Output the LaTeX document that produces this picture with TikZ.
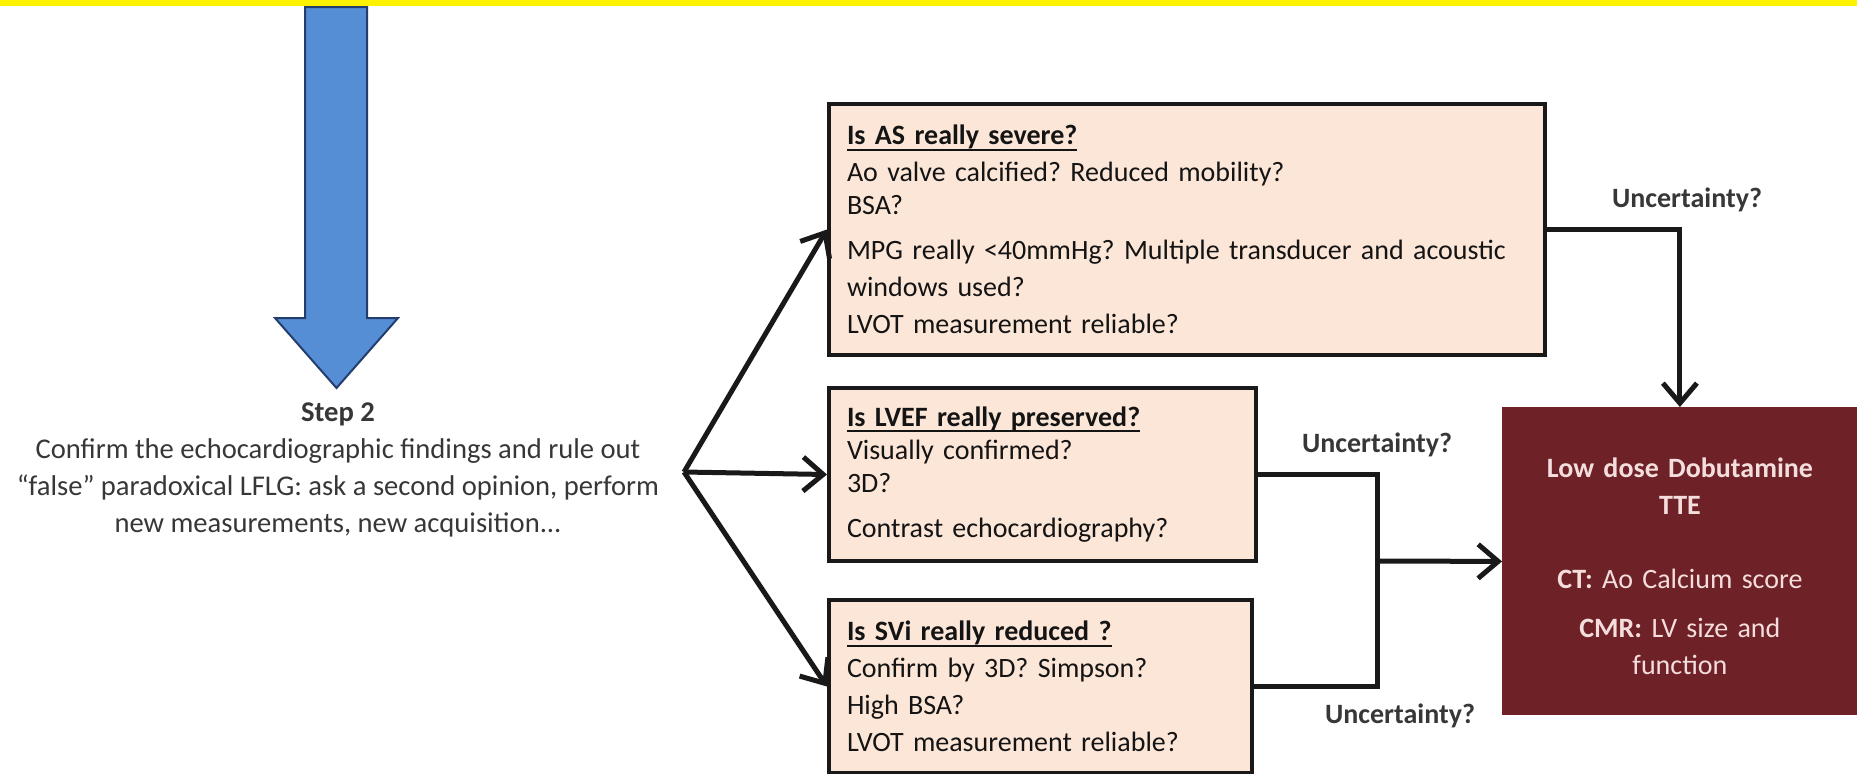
\documentclass[tikz,border=0pt]{standalone}
\usepackage{fontspec}
\setmainfont{Carlito}
\usepackage{xcolor}
\usetikzlibrary{arrows.meta}
\frenchspacing

\definecolor{peach}{RGB}{252,230,216}
\definecolor{boxred}{RGB}{110,33,38}
\definecolor{arrowblue}{RGB}{85,142,213}
\definecolor{arrowedge}{RGB}{35,62,110}
\definecolor{txtgrey}{RGB}{55,55,55}
\definecolor{pinktxt}{RGB}{244,222,221}

\newcommand{\hdr}[1]{\setbox0\hbox{\textbf{#1}}\rlap{\rule[-3pt]{\wd0}{1pt}}\box0}

\begin{document}
\begin{tikzpicture}[x=0.5pt,y=0.5pt,yscale=-1,
  every node/.style={font=\fontsize{14}{18.5}\selectfont},
  qbox/.style={draw=black!90,line width=2pt,fill=peach,text=black!92,anchor=north west,align=left,inner xsep=9pt,inner ysep=0pt},
  endbox/.style={fill=boxred,text=pinktxt,anchor=north west,align=center,inner xsep=6pt,inner ysep=0pt},
  lbl/.style={font=\fontsize{14}{18.5}\selectfont\bfseries,text=txtgrey,inner sep=0pt,anchor=base},
  conn/.style={line width=2.5pt,draw=black!90,-{Straight Barb[length=10pt,width=17pt]}},
  wire/.style={line width=2.5pt,draw=black!90}]
\useasboundingbox (0,0) rectangle (1857,773);
\fill[yellow] (0,0) rectangle (1857,6);
\draw[draw=arrowedge,line width=1pt,fill=arrowblue] (305,7) -- (367,7) -- (367,318) -- (398,318) -- (336.5,388) -- (275,318) -- (305,318) -- cycle;
\node[align=center,text=txtgrey,inner sep=0pt,font=\fontsize{14.3}{18.5}\selectfont] (step) at (338,470) {\textbf{Step 2}\\Confirm the echocardiographic findings and rule out\\“false” paradoxical LFLG: ask a second opinion, perform\\new measurements, new acquisition...};
\coordinate (branch) at (684,472);
\node[qbox,text width=340pt,minimum height=125.5pt] (box1) at (827,102) {\hdr{Is AS really severe?}\\Ao valve calcified? Reduced mobility?\\[-2pt]BSA?\\[4pt]MPG really <40mmHg? Multiple transducer and acoustic\\windows used?\\LVOT measurement reliable?};
\node[qbox,text width=195.5pt,minimum height=86.5pt] (box2) at (827,386) {\hdr{Is LVEF really preserved?}\\[-2pt]Visually confirmed?\\[-2pt]3D?\\[4pt]Contrast echocardiography?};
\node[qbox,text width=193.5pt,minimum height=86.5pt] (box3) at (827,598) {\hdr{Is SVi really reduced ?}\\Confirm by 3D? Simpson?\\High BSA?\\LVOT measurement reliable?};
\node[endbox,text width=165.5pt,minimum height=154pt] (box4) at (1502,407) {\mbox{}\\[-4pt]\textbf{Low dose Dobutamine}\\\textbf{TTE}\\[18.5pt]\textbf{CT:} Ao Calcium score\\[6pt]\textbf{CMR:} LV size and\\function};
\coordinate (join) at (1377,561);
\draw[conn] (branch) -- (box1.west);
\draw[conn] (branch) -- (box2.west);
\draw[conn] (branch) -- (box3.west);
\draw[conn] (box1.east) -| (box4.north);
\draw[wire] (box2.east) -| (join) |- (box3.east);
\draw[conn] (join) -- (box4.west);
\node[lbl] (unc1) at (1687,207) {Uncertainty?};
\node[lbl] (unc2) at (1377,452) {Uncertainty?};
\node[lbl] (unc3) at (1400,723) {Uncertainty?};
\end{tikzpicture}
\end{document}
